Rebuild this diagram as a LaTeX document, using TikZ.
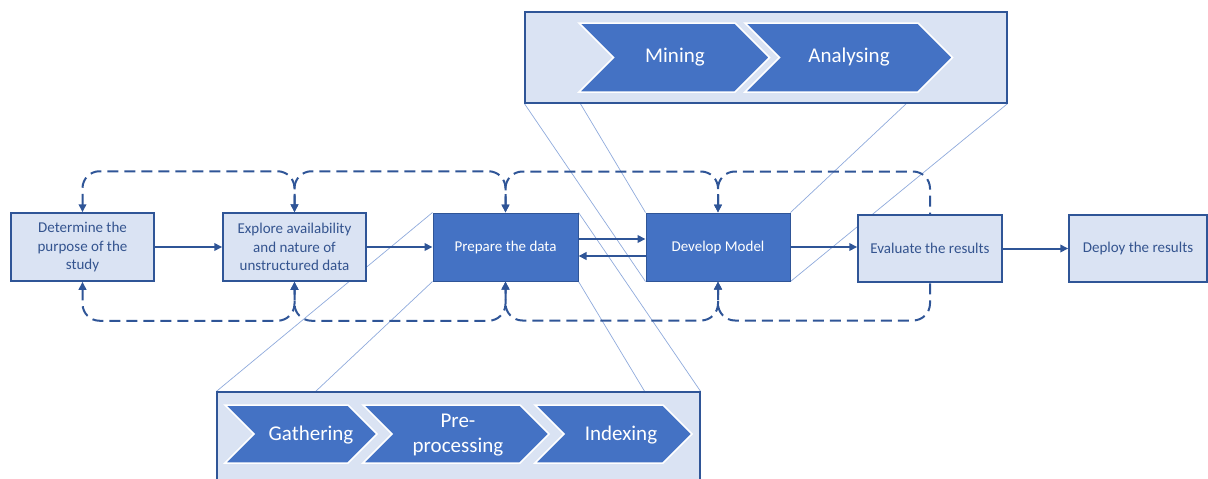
\documentclass[tikz,border=0pt]{standalone}
\usepackage{fontspec}
\setmainfont{Carlito}
\usetikzlibrary{arrows.meta}
\definecolor{dblue}{HTML}{2F5597}
\definecolor{mblue}{HTML}{4472C4}
\definecolor{lblue}{HTML}{DAE3F3}
\definecolor{zline}{HTML}{8FAADC}
\definecolor{tblue}{HTML}{34548F}
\pgfdeclarelayer{bg}
\pgfsetlayers{bg,main}
\begin{document}
\begin{tikzpicture}[x=1pt,y=-1pt,
  lightbox/.style={draw=dblue, line width=1.5pt, fill=lblue, text=tblue, align=center,
    font=\fontsize{15}{18.5}\selectfont, inner sep=0pt, minimum height=68pt},
  darkbox/.style={draw=dblue, line width=1pt, fill=mblue, text=white, align=center,
    font=\fontsize{15}{18.5}\selectfont, inner sep=0pt, minimum height=68pt},
  detailbox/.style={draw=dblue, line width=1.2pt, fill=lblue, inner sep=0pt},
  chev/.style={fill=mblue, draw=white, line width=1.5pt, line join=miter},
  chevtext/.style={text=white, align=center, font=\fontsize{21}{25}\selectfont, inner sep=0pt},
  conn/.style={dblue, line width=2pt, -{Triangle[length=8pt,width=7.5pt]}},
  dashloop/.style={dblue, line width=2pt, dash pattern=on 11pt off 6pt, rounded corners=17pt},
  looptip/.style={{Triangle[length=8pt,width=7.5pt]}-{Triangle[length=8pt,width=7.5pt]}},
  looptipl/.style={{Triangle[length=8pt,width=7.5pt]}-},
  zoomline/.style={zline, line width=0.7pt}]
\useasboundingbox (0,0) rectangle (1208,479);

% main process boxes
\node[lightbox, minimum width=143pt] (b1) at (82.5,247) {Determine the\\purpose of the\\study};
\node[lightbox, minimum width=143pt] (b2) at (294.5,247) {Explore availability\\and nature of\\unstructured data};
\node[darkbox, minimum width=145pt] (b3) at (505.5,247) {Prepare the data};
\node[darkbox, minimum width=144pt] (b4) at (718,247) {Develop Model};
\node[lightbox, minimum width=144pt, minimum height=67pt] (b5) at (930,248.5) {Evaluate the results};
\node[lightbox, minimum width=138pt, minimum height=67pt] (b6) at (1138,248.5) {Deploy the results};

% detail boxes
\node[detailbox, minimum width=482pt, minimum height=91pt] (top) at (766,57.5) {};
\node[detailbox, minimum width=483pt, minimum height=100pt] (bot) at (458.5,442) {};

% chevrons (top)
\draw[chev] (579,23) -- (735,23) -- (769.5,57.5) -- (735,92) -- (579,92) -- (613.5,57.5) -- cycle;
\draw[chev] (745,23) -- (918,23) -- (952.5,57.5) -- (918,92) -- (745,92) -- (779.5,57.5) -- cycle;
\node[chevtext] (mining) at (675,57) {Mining};
\node[chevtext] (analysing) at (849,57) {Analysing};

% chevrons (bottom)
\draw[chev] (225,405) -- (348,405) -- (377,434) -- (348,463) -- (225,463) -- (254,434) -- cycle;
\draw[chev] (363,405) -- (520,405) -- (549,434) -- (520,463) -- (363,463) -- (392,434) -- cycle;
\draw[chev] (535,405) -- (663,405) -- (692,434) -- (663,463) -- (535,463) -- (564,434) -- cycle;
\node[chevtext] (gathering) at (311,435) {Gathering};
\node[chevtext] (preproc) at (458,435) {Pre-\\processing};
\node[chevtext] (indexing) at (621,435) {Indexing};

% zoom lines (behind)
\coordinate (tz1) at (580,103);
\coordinate (tz2) at (907,103);
\coordinate (bz1) at (315,392);
\coordinate (bz2) at (645,392);
\begin{pgfonlayer}{bg}
\draw[zoomline] (b3.north west) -- (bot.north west);
\draw[zoomline] (b3.south west) -- (bz1);
\draw[zoomline] (b3.south east) -- (bz2);
\draw[zoomline] (b3.north east) -- (bot.north east);
\draw[zoomline] (top.south west) -- (b4.south west);
\draw[zoomline] (tz1) -- (b4.north west);
\draw[zoomline] (tz2) -- (b4.north east);
\draw[zoomline] (top.south east) -- (b4.south east);
\end{pgfonlayer}

% solid connectors
\draw[conn] (b1) -- (b2);
\draw[conn] (b2) -- (b3);
\draw[conn] ([yshift=8pt]b3.east) -- ([yshift=8pt]b4.west);
\draw[conn] ([yshift=-9pt]b4.west) -- ([yshift=-9pt]b3.east);
\draw[conn] (b4.east) -- (b4.east -| b5.west);
\draw[conn] (b5.east) -- (b5.east -| b6.west);

% dashed feedback loops (top)
\draw[dashloop, looptip] (b1.north) -- ++(0,-41) -| (b2.north);
\draw[dashloop, looptip] (b2.north) -- ++(0,-41) -| (b3.north);
\draw[dashloop, looptip] (b3.north) -- ++(0,-41) -| (b4.north);
\draw[dashloop, looptipl] (b4.north) -- ++(0,-41) -| (b5.north);
% dashed feedback loops (bottom)
\draw[dashloop, looptip] (b1.south) -- ++(0,39) -| (b2.south);
\draw[dashloop, looptip] (b2.south) -- ++(0,39) -| (b3.south);
\draw[dashloop, looptip] (b3.south) -- ++(0,39) -| (b4.south);
\draw[dashloop, looptipl] (b4.south) -- ++(0,39) -| (b5.south);
\end{tikzpicture}
\end{document}
